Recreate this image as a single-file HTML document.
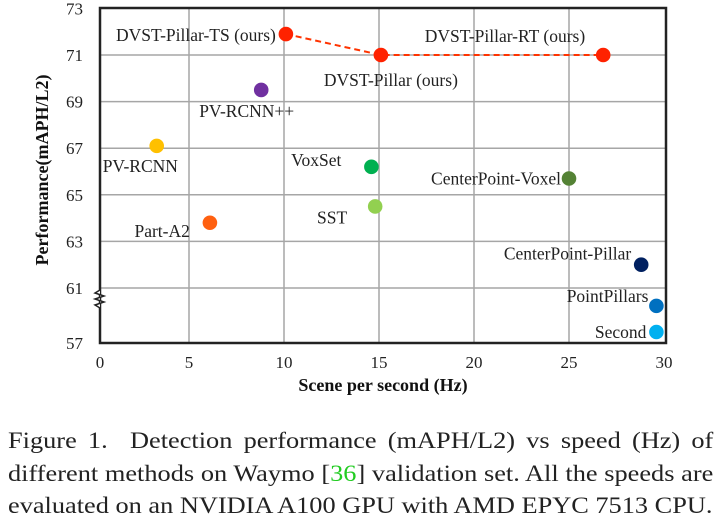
<!DOCTYPE html>
<html><head><meta charset="utf-8"><style>
body{margin:0;background:#fff;width:720px;height:528px;overflow:hidden;font-family:"Liberation Serif",serif}
svg{position:absolute;left:0;top:0}
.cap{position:absolute;left:8px;top:425px;width:616px;font-size:23px;line-height:32.5px;color:#222;transform:scaleX(1.145);transform-origin:0 0}
.cap div{text-align:justify;text-align-last:justify;white-space:nowrap}
.cap div.last{text-align-last:left}
</style></head><body>
<svg width="720" height="400" id="chart"></svg>
<div class="cap">
<div>Figure 1.&nbsp; Detection performance (mAPH/L2) vs speed (Hz) of</div>
<div>different methods on Waymo [<span style="color:#2c2">36</span>] validation set. All the speeds are</div>
<div class="last">evaluated on an NVIDIA A100 GPU with AMD EPYC 7513 CPU.</div>
</div>
<script>
const methods=["DVST-Pillar-TS (ours)","DVST-Pillar (ours)","DVST-Pillar-RT (ours)","PV-RCNN++","PV-RCNN","Part-A2","VoxSet","SST","CenterPoint-Voxel","CenterPoint-Pillar","PointPillars","Second"];
const speeds=[10.1,15.1,26.8,8.8,3.3,6.1,14.6,14.8,25.0,28.8,29.6,29.6];
const perf=[71.9,71.0,71.0,69.5,67.1,63.8,66.2,64.5,65.7,62.0,59.7,57.8];
const colors=["#ff2200","#ff2200","#ff2200","#7030a0","#ffc000","#ff6010","#00b050","#92d050","#548235","#002060","#0070c0","#00b0f0"];
const xTicks=[0,5,10,15,20,25,30];
const yTicks=[73,71,69,67,65,63,61,57];
const labelPos=[[-10,7,"end"],[10,31,"middle"],[-18,-13,"end"],[-62,27,"start"],[-54,26,"start"],[-20,14,"end"],[-30,-1,"end"],[-28,17,"end"],[-8,6,"end"],[-10,-5,"end"],[-8,-4,"end"],[-10,6,"end"]];
const NS="http://www.w3.org/2000/svg",svg=document.getElementById('chart');
const L=100,T=8,R=666,B=343;
function xs(v){return 94+19*v;}
function ys(v){return v>=61?288-(v-61)*23.3:288+(61-v)*(55/4);}
function el(t,a,p){const e=document.createElementNS(NS,t);for(const k in a)e.setAttribute(k,a[k]);(p||svg).appendChild(e);return e;}
xTicks.forEach(t=>{
 if(t>0&&t<30){const g=el('line',{x1:xs(t),x2:xs(t),y1:T,y2:B,stroke:'#a6a6a6','stroke-width':1.5});
 }
 const tx=el('text',{x:t===0?L:xs(t),y:368,'font-size':17,'text-anchor':'middle',fill:'#222'});tx.textContent=t;
 
});
yTicks.forEach(t=>{
 if(t<73&&t>57){const g=el('line',{x1:L,x2:R,y1:ys(t),y2:ys(t),stroke:'#a6a6a6','stroke-width':1.5});
 }
 const tx=el('text',{x:83,y:ys(t)+6,'font-size':17,'text-anchor':'end',fill:'#222'});tx.textContent=t;
 
});
const fr=el('rect',{x:L,y:T,width:R-L,height:B-T,fill:'none',stroke:'#222','stroke-width':2.5});

const br=el('path',{d:'M100 290 l-5 3 l9 3 l-9 3 l9 3 l-9 3 l5 3',fill:'#fff',stroke:'#222','stroke-width':1.5});

const ln=el('polyline',{points:[0,1,2].map(i=>xs(speeds[i])+','+ys(perf[i])).join(' '),fill:'none',stroke:'#ff3300','stroke-width':2,'stroke-dasharray':'6,4'});

methods.forEach((m,i)=>{
 const cx=xs(speeds[i]),cy=ys(perf[i]);
 const c=el('circle',{cx:cx,cy:cy,r:7.3,fill:colors[i]});
 
 
 const p=labelPos[i];
 const tx=el('text',{x:cx+p[0],y:cy+p[1],'font-size':17.5,'text-anchor':p[2],fill:'#222'});tx.textContent=m;
 
});
const xt=el('text',{x:383,y:391,'font-size':18,'font-weight':'bold','text-anchor':'middle',fill:'#111'});xt.textContent='Scene per second (Hz)';

const yt=el('text',{x:0,y:0,'font-size':18,'font-weight':'bold','text-anchor':'middle',fill:'#111',transform:'translate(48,170) rotate(-90)'});yt.textContent='Performance(mAPH/L2)';

</script>
</body></html>
